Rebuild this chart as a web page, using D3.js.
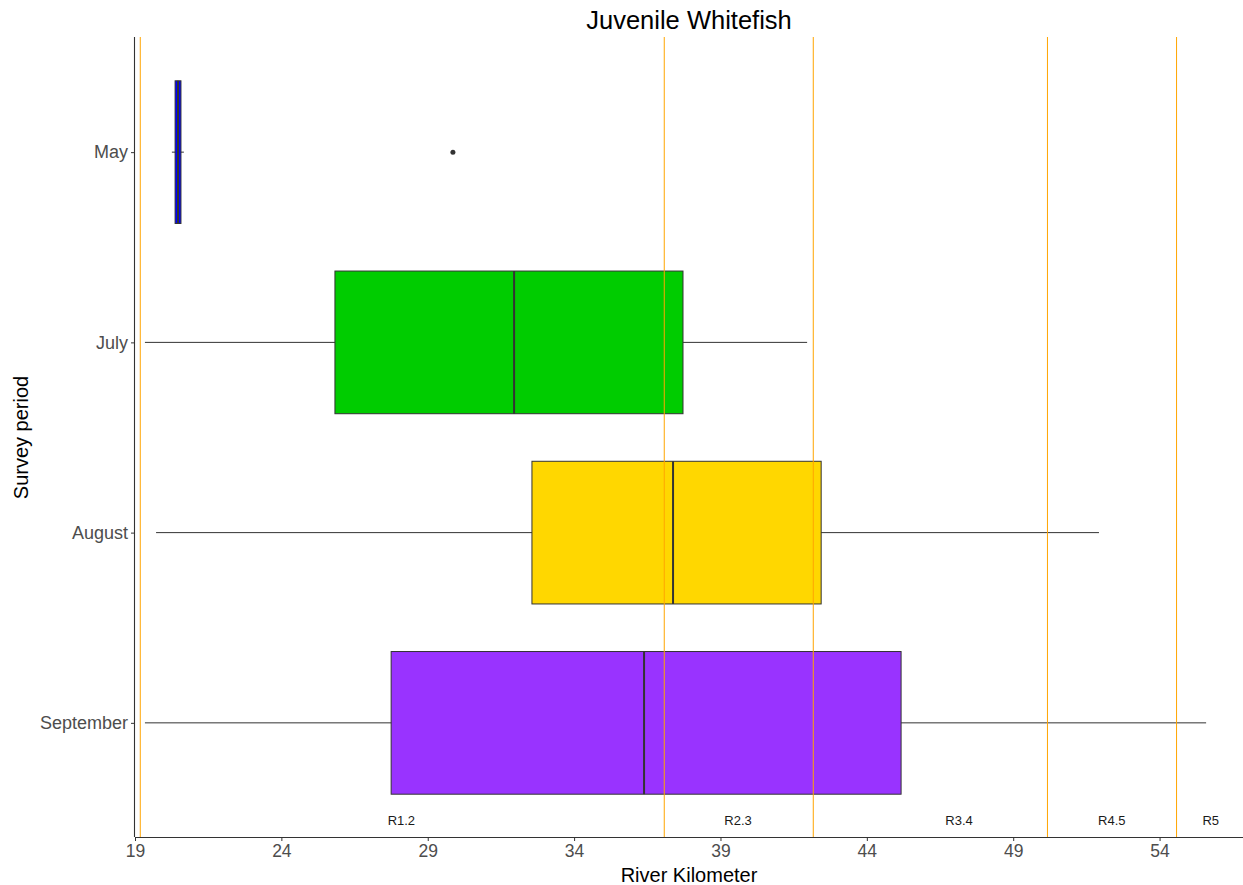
<!DOCTYPE html>
<html>
<head>
<meta charset="utf-8">
<script src="https://cdn.jsdelivr.net/npm/d3@7"></script>
<style>
  html, body { margin: 0; padding: 0; background: #fff; }
  svg { display: block; font-family: "Liberation Sans", Arial, sans-serif; }
</style>
</head>
<body>
<svg id="chart" width="1243" height="885"></svg>
<script>
// ---- data ----
const categories = ["May", "July", "August", "September"];
const whiskerLow  = [20.26, 19.34, 19.72, 19.34];
const q1          = [20.37, 25.83, 32.56, 27.75];
const medians     = [20.47, 31.95, 37.38, 36.39];
const q3          = [20.57, 37.72, 42.44, 45.17];
const whiskerHigh = [20.67, 41.96, 51.93, 55.59];
const outlierCats = ["May"];
const outlierVals = [29.86];
const fills = ["#0000FF", "#00CC00", "#FFD700", "#9933FF"];
const xTicks = [19, 24, 29, 34, 39, 44, 49, 54];
const reachLines = [19.18, 37.08, 42.17, 50.17, 54.58];
const reachLabels = ["R1.2", "R2.3", "R3.4", "R4.5", "R5"];
const reachLabelPos = [28.1, 39.6, 47.15, 52.37, 55.75];

// ---- layout ----
const svg = d3.select("#chart");
const pL = 135, pR = 1243, pT = 38, pB = 837;

const x = d3.scaleLinear().domain([19, 56.85]).range([pL, pR]);
const y = d3.scalePoint().domain(categories).range([pT, pB]).padding(0.6);
const boxH = y.step() * 0.75;

const g = svg.append("g");

// whiskers
g.selectAll("line.whisk").data(categories).enter().append("line")
  .attr("x1", (d, i) => x(whiskerLow[i])).attr("x2", (d, i) => x(whiskerHigh[i]))
  .attr("y1", d => y(d)).attr("y2", d => y(d))
  .attr("stroke", "#333333").attr("stroke-width", 1);

// boxes
g.selectAll("rect.box").data(categories).enter().append("rect")
  .attr("x", (d, i) => x(q1[i])).attr("width", (d, i) => x(q3[i]) - x(q1[i]))
  .attr("y", d => y(d) - boxH / 2).attr("height", boxH)
  .attr("fill", (d, i) => fills[i]).attr("stroke", "#333333").attr("stroke-width", 1);

// medians
g.selectAll("line.med").data(categories).enter().append("line")
  .attr("x1", (d, i) => x(medians[i])).attr("x2", (d, i) => x(medians[i]))
  .attr("y1", d => y(d) - boxH / 2).attr("y2", d => y(d) + boxH / 2)
  .attr("stroke", "#333333").attr("stroke-width", 2);

// outliers
g.selectAll("circle.out").data(outlierVals).enter().append("circle")
  .attr("cx", d => x(d)).attr("cy", (d, i) => y(outlierCats[i]))
  .attr("r", 2.5).attr("fill", "#333333");

// reach lines
g.selectAll("line.reach").data(reachLines).enter().append("line")
  .attr("x1", d => x(d)).attr("x2", d => x(d))
  .attr("y1", pT - 1).attr("y2", pB)
  .attr("stroke", "#FFA500").attr("stroke-width", 1);

// reach labels
g.selectAll("text.reach").data(reachLabels).enter().append("text")
  .attr("x", (d, i) => x(reachLabelPos[i])).attr("y", 825)
  .attr("text-anchor", "middle").attr("font-size", 13).attr("fill", "#1a1a1a")
  .text(d => d);

// axes
const xAxis = svg.append("g").attr("transform", `translate(0,${pB})`)
  .call(d3.axisBottom(x).tickValues(xTicks).tickSize(4).tickPadding(4).tickFormat(d3.format("d")));
xAxis.select(".domain").attr("stroke", "#333333").attr("stroke-width", 1.1).attr("d", `M${pL},0.5H${pR}`);
xAxis.selectAll(".tick line").attr("stroke", "#333333");
xAxis.selectAll(".tick text").attr("font-size", 17.5).attr("fill", "#4D4D4D").attr("font-family", "Liberation Sans, Arial, sans-serif");

const yAxis = svg.append("g").attr("transform", `translate(${pL},0)`)
  .call(d3.axisLeft(y).tickSize(4).tickPadding(3));
yAxis.select(".domain").attr("stroke", "#333333").attr("stroke-width", 1.1).attr("d", `M-0.5,${pT - 1}V${pB}`);
yAxis.selectAll(".tick line").attr("stroke", "#333333");
yAxis.selectAll(".tick text").attr("font-size", 18).attr("fill", "#4D4D4D").attr("font-family", "Liberation Sans, Arial, sans-serif");

// titles
svg.append("text").attr("x", (pL + pR) / 2).attr("y", 29)
  .attr("text-anchor", "middle").attr("font-size", 25.5).attr("fill", "#000")
  .text("Juvenile Whitefish");
svg.append("text").attr("x", (pL + pR) / 2).attr("y", 882)
  .attr("text-anchor", "middle").attr("font-size", 20).attr("fill", "#000")
  .text("River Kilometer");
svg.append("text").attr("transform", `translate(28,${(pT + pB) / 2}) rotate(-90)`)
  .attr("text-anchor", "middle").attr("font-size", 20).attr("fill", "#000")
  .text("Survey period");
</script>
</body>
</html>
